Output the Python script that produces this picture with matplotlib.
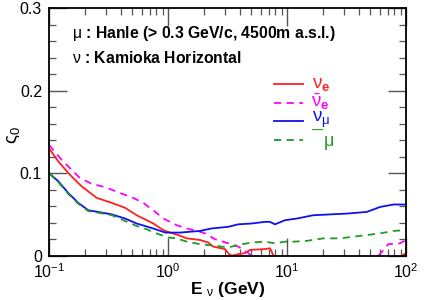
import matplotlib
matplotlib.use("Agg")
import matplotlib.pyplot as plt
from matplotlib.ticker import FixedLocator, FixedFormatter, LogLocator, MultipleLocator, NullFormatter

plt.rcParams['font.family'] = ['Liberation Sans', 'DejaVu Sans']
plt.rcParams['mathtext.fontset'] = 'custom'
plt.rcParams['mathtext.rm'] = 'Liberation Sans'
plt.rcParams['mathtext.it'] = 'Liberation Sans'
plt.rcParams['mathtext.bf'] = 'Liberation Sans:bold'

# ---------------- data ----------------
nue_E = [0.100, 0.120, 0.150, 0.188, 0.252, 0.337, 0.436, 0.545, 0.662, 0.752, 0.914,
         1.04, 1.22, 1.44, 1.86, 2.18, 2.40, 3.01, 3.25, 3.45, 3.9, 4.4, 4.9, 6.5, 7.2, 7.7]
nue_v = [0.130, 0.114, 0.098, 0.084, 0.070, 0.064, 0.058, 0.049, 0.043, 0.039, 0.031,
         0.028, 0.025, 0.021, 0.019, 0.016, 0.011, 0.008, 0.002, 0.000, 0.002, 0.003, 0.007, 0.008, 0.009, 0.000]
nue_E2 = [92.0, 100.0]
nue_v2 = [0.000, 0.003]

anue_E = [0.100, 0.128, 0.155, 0.182, 0.229, 0.296, 0.395, 0.511, 0.619, 0.752, 0.914,
          1.18, 1.44, 1.86, 2.05, 2.48, 3.21, 3.90, 4.73, 5.0]
anue_v = [0.134, 0.116, 0.104, 0.094, 0.087, 0.083, 0.076, 0.070, 0.064, 0.055, 0.045,
          0.037, 0.033, 0.029, 0.027, 0.020, 0.015, 0.011, 0.003, 0.000]
anue_E2 = [58.5, 64.0, 71.0, 89.1, 100.0]
anue_v2 = [0.000, 0.006, 0.014, 0.015, 0.019]

numu_E = [0.100, 0.120, 0.145, 0.176, 0.214, 0.259, 0.337, 0.436, 0.545, 0.75, 0.95,
          1.26, 1.53, 1.86, 2.33, 3.21, 3.90, 5.05, 6.53, 7.19, 7.93, 9.62, 12.1, 16.6,
          23.0, 31.8, 38.5, 46.8, 60.5, 78.2, 100.0]
numu_v = [0.100, 0.090, 0.076, 0.064, 0.055, 0.053, 0.050, 0.045, 0.039, 0.033, 0.028,
          0.028, 0.029, 0.030, 0.033, 0.035, 0.038, 0.039, 0.041, 0.041, 0.038, 0.043, 0.045, 0.049,
          0.050, 0.051, 0.052, 0.053, 0.059, 0.062, 0.062]

anumu_E = [0.100, 0.120, 0.145, 0.176, 0.214, 0.259, 0.337, 0.436, 0.545, 0.662, 0.80, 1.01,
           1.18, 1.44, 1.86, 2.48, 3.21, 3.90, 5.05, 6.53, 7.93, 9.62, 11.3, 14.7, 20.2,
           27.9, 41.0, 60.5, 78.2, 100.0]
anumu_v = [0.100, 0.089, 0.075, 0.063, 0.054, 0.052, 0.049, 0.042, 0.036, 0.032, 0.027, 0.022,
           0.021, 0.017, 0.014, 0.012, 0.010, 0.013, 0.016, 0.017, 0.015, 0.017, 0.017, 0.018, 0.021,
           0.021, 0.024, 0.027, 0.030, 0.031]

x_ticks = [0.1, 1, 10, 100]
x_ticklabels = [r'$10^{-1}$', r'$10^{0}$', r'$10^{1}$', r'$10^{2}$']
y_ticks = [0.0, 0.1, 0.2, 0.3]
y_ticklabels = ['0', '0.1', '0.2', '0.3']

legend_labels = [r'$\nu_{\mathbf{e}}$', r'$\bar{\nu}_{\mathbf{e}}$', r'$\nu_{\mu}$']
c_red, c_mag, c_blue, c_green = '#ff2020', '#ff00ff', '#1010ee', '#229922'

# ---------------- figure ----------------
fig = plt.figure(figsize=(4.24, 3.00), dpi=100)
ax = fig.add_axes([49/424, 1-255.7/300, 357/424, 247.7/300])

lw = 1.3
dash = (0, (4, 3))
l1, = ax.plot(nue_E, nue_v, color=c_red, lw=lw, solid_joinstyle='round')
ax.plot(nue_E2, nue_v2, color=c_red, lw=lw)
l2, = ax.plot(anue_E, anue_v, color=c_mag, lw=lw, ls=dash)
ax.plot(anue_E2, anue_v2, color=c_mag, lw=lw, ls=dash)
l3, = ax.plot(numu_E, numu_v, color=c_blue, lw=lw)
l4, = ax.plot(anumu_E, anumu_v, color=c_green, lw=lw, ls=dash)

ax.set_xscale('log')
ax.set_xlim(0.1, 100)
ax.set_ylim(0, 0.3)
ax.xaxis.set_major_locator(FixedLocator(x_ticks))
ax.xaxis.set_major_formatter(FixedFormatter(x_ticklabels))
ax.xaxis.set_minor_locator(LogLocator(base=10, subs=range(2, 10)))
ax.xaxis.set_minor_formatter(NullFormatter())
ax.yaxis.set_major_locator(FixedLocator(y_ticks))
ax.yaxis.set_major_formatter(FixedFormatter(y_ticklabels))
ax.yaxis.set_minor_locator(MultipleLocator(0.02))

ax.tick_params(which='both', direction='in', top=True, right=True, color='#555555')
ax.tick_params(which='major', length=13, width=1.0, labelsize=11.5, pad=5)
ax.tick_params(which='minor', length=5, width=0.9)
for s in ax.spines.values():
    s.set_linewidth(1.3)

ax.set_ylabel(r'$\varsigma_0$', fontsize=13.5)
ax.yaxis.set_label_coords(-0.077, 0.487)
ax.set_xlabel(r'E $_{\nu}$ (GeV)', fontsize=12.5, fontweight='bold')
ax.xaxis.set_label_coords(0.5, -0.097)

ax.text(0.064, 0.899, r'$\mu$ : Hanle (> 0.3 GeV/c, 4500m a.s.l.)', transform=ax.transAxes,
        fontsize=11.3, fontweight='bold', va='center', ha='left')
ax.text(0.064, 0.798, r'$\nu$ : Kamioka Horizontal', transform=ax.transAxes,
        fontsize=11.3, fontweight='bold', va='center', ha='left')

leg = ax.legend([l1, l2, l3, l4], [' '] * 4, loc='upper left',
                bbox_to_anchor=(0.631, 0.717), frameon=False, fontsize=10,
                handlelength=2.1, handletextpad=0.2, labelspacing=0.32,
                borderpad=0, borderaxespad=0)

# legend labels placed next to the keys
ax.text(0.737, 0.690, legend_labels[0], transform=ax.transAxes, color=c_red, fontsize=13.5,
        va='center', ha='left')
ax.text(0.735, 0.622, legend_labels[1], transform=ax.transAxes, color=c_mag, fontsize=13.5,
        va='center', ha='left')
ax.text(0.737, 0.548, legend_labels[2], transform=ax.transAxes, color=c_blue, fontsize=13.5,
        va='center', ha='left')
ax.text(0.737, 0.503, '\u2014', transform=ax.transAxes, color=c_green, fontsize=8,
        fontweight='bold', va='center', ha='left')
ax.text(0.767, 0.455, r'$\mu$', transform=ax.transAxes, color=c_green, fontsize=13,
        va='center', ha='left')

fig.savefig('out.png', dpi=100)
